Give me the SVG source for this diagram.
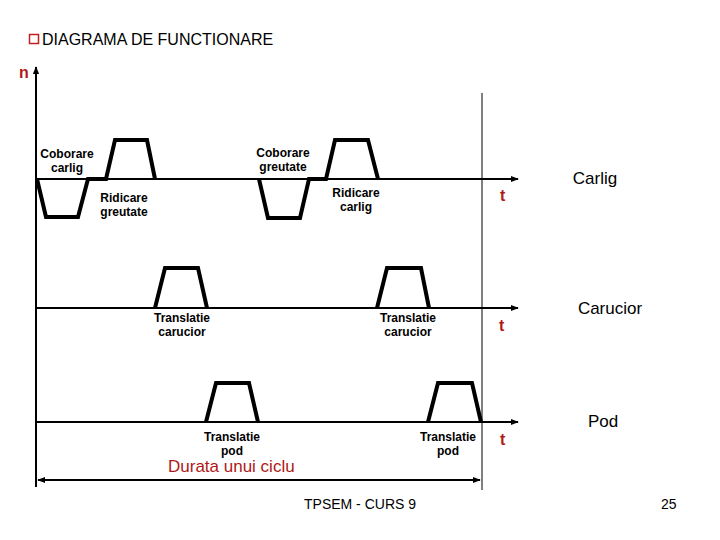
<svg xmlns="http://www.w3.org/2000/svg" width="720" height="540" viewBox="0 0 720 540">
<defs>
<marker id="ah" viewBox="0 0 10 10" refX="9" refY="5" markerWidth="4" markerHeight="4" orient="auto-start-reverse" markerUnits="strokeWidth">
<path d="M0,1 L10,5 L0,9 Z" fill="#000"/>
</marker>
<style>
.ax{stroke:#000;stroke-width:2;fill:none}
.thin{stroke:#000;stroke-width:1;fill:none}
.w{stroke:#000;stroke-width:4;fill:none;stroke-linejoin:miter}
.lb{font-family:"Liberation Sans",Arial,sans-serif;font-weight:bold;font-size:12px;fill:#000;text-anchor:middle}
.big{font-family:"Liberation Sans",Arial,sans-serif;font-size:17px;fill:#000;text-anchor:middle}
.red{font-family:"Liberation Sans",Arial,sans-serif;font-weight:bold;font-size:16px;fill:#b01818}
.ft{font-family:"Liberation Sans",Arial,sans-serif;font-size:14px;fill:#000}
</style>
</defs>
<rect width="720" height="540" fill="#fff"/>
<g id="title">
<rect x="29.5" y="34.5" width="9" height="9" fill="none" stroke="#c02020" stroke-width="1.5"/>
<text x="42" y="45" font-family="Liberation Sans, Arial, sans-serif" font-size="16">DIAGRAMA DE FUNCTIONARE</text>
</g>
<g id="connectors">
<line class="ax" x1="36" y1="487" x2="36" y2="67" marker-end="url(#ah)"/>
<line class="ax" x1="36" y1="179" x2="518" y2="179" marker-end="url(#ah)"/>
<line class="ax" x1="36" y1="308" x2="518" y2="308" marker-end="url(#ah)"/>
<line class="ax" x1="36" y1="422" x2="518" y2="422" marker-end="url(#ah)"/>
<line class="thin" x1="482" y1="93" x2="482" y2="490"/>
<line class="ax" x1="38" y1="480" x2="480" y2="480" marker-start="url(#ah)" marker-end="url(#ah)"/>
</g>
<g id="wave-carlig">
<polyline class="w" points="37,179 46,217 78,217 88,179 106,179 115,140 147,140 155,179"/>
<polyline class="w" points="259,179 268,218 300,218 309,179 326,179 335,140 368,140 378,179"/>
</g>
<g id="wave-carucior">
<polyline class="w" points="155,308 165,268 198,268 207,308"/>
<polyline class="w" points="377,308 387,268 421,268 429,308"/>
</g>
<g id="wave-pod">
<polyline class="w" points="206,422 216,383 249,383 258,422"/>
<polyline class="w" points="428,422 438,383 472,383 481,422"/>
</g>
<g id="labels">
<text class="lb" x="67" y="158">Coborare</text>
<text class="lb" x="67" y="172">carlig</text>
<text class="lb" x="124" y="202">Ridicare</text>
<text class="lb" x="124" y="216">greutate</text>
<text class="lb" x="283" y="157">Coborare</text>
<text class="lb" x="283" y="171">greutate</text>
<text class="lb" x="356" y="197">Ridicare</text>
<text class="lb" x="356" y="211">carlig</text>
<text class="lb" x="182" y="322">Translatie</text>
<text class="lb" x="182" y="336">carucior</text>
<text class="lb" x="408" y="322">Translatie</text>
<text class="lb" x="408" y="336">carucior</text>
<text class="lb" x="232" y="441">Translatie</text>
<text class="lb" x="232" y="455">pod</text>
<text class="lb" x="448" y="441">Translatie</text>
<text class="lb" x="448" y="455">pod</text>
</g>
<g id="axis-labels">
<text class="red" x="19" y="78">n</text>
<text class="red" x="500" y="201">t</text>
<text class="red" x="499" y="331">t</text>
<text class="red" x="500" y="445">t</text>
<text class="big" x="595" y="184">Carlig</text>
<text class="big" x="610" y="314">Carucior</text>
<text class="big" x="603" y="427">Pod</text>
<text x="168" y="472" font-family="Liberation Sans, Arial, sans-serif" font-size="17" fill="#b01818">Durata unui ciclu</text>
</g>
<g id="footer">
<text class="ft" x="304" y="509">TPSEM - CURS 9</text>
<text class="ft" x="661" y="509">25</text>
</g>
</svg>
